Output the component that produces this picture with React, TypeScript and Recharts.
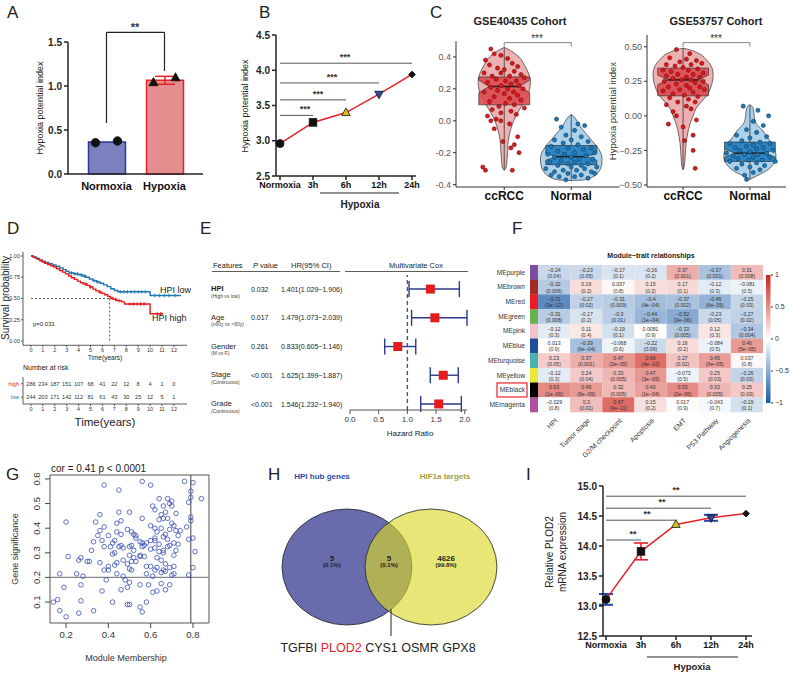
import React from 'react';
import {
  ComposedChart, BarChart, Bar, Line, Scatter, ScatterChart, AreaChart, Area,
  XAxis, YAxis, ErrorBar, ReferenceLine, ReferenceArea, Cell,
} from 'recharts';

const FONT = '"Liberation Sans", Arial, Helvetica, sans-serif';

/* ======================= DATA ======================= */
// Panel A
const aCategories = ['Normoxia', 'Hypoxia'];
const aMeans = [0.365, 1.065];
const aErrors = [0, 0.045];
const aRep1 = [0.355, 1.04];
const aRep2 = [0.375, 1.095];
const aBracket = [0.58, 1.61, 1.17];

// Panel B
const bCategories = ['Normoxia', '3h', '6h', '12h', '24h'];
const bValues = [2.96, 3.26, 3.4, 3.66, 3.94];
const bSigEnds = ['3h', '6h', '12h', '24h'];
const bSigLevels = [3.36, 3.58, 3.82, 4.1];

// Panel I
const iValues = [13.11, 13.91, 14.36, 14.47, 14.54];
const iErrors = [0.09, 0.14, 0.02, 0.05, 0.02];
const iSigLevels = [14.1, 14.43, 14.63, 14.83];
const iErrBlue = ['Normoxia', '12h'];
const iErrRed = ['3h'];

// Panel C – GSE40435
const c1CcDensity = [[-0.31, 0], [-0.29, 0.03], [-0.25, 0.04], [-0.2, 0.05], [-0.15, 0.055], [-0.1, 0.07], [-0.05, 0.1], [0, 0.14], [0.05, 0.2], [0.1, 0.27], [0.15, 0.34], [0.2, 0.38], [0.25, 0.39], [0.3, 0.36], [0.35, 0.3], [0.4, 0.22], [0.43, 0.13], [0.45, 0.05], [0.46, 0]];
const c1NDensity = [[-0.375, 0], [-0.37, 0.2], [-0.35, 0.33], [-0.32, 0.41], [-0.28, 0.45], [-0.24, 0.46], [-0.2, 0.44], [-0.16, 0.38], [-0.12, 0.3], [-0.08, 0.22], [-0.05, 0.16], [-0.02, 0.11], [0.01, 0.07], [0.03, 0.03], [0.04, 0]];
const c1CcBox = [-0.31, 0.1, 0.215, 0.275, 0.46];
const c1NBox = [-0.375, -0.275, -0.225, -0.155, 0.04];
const c1Notch = [0.04, 0.022];
const c1CcPoints = [[-0.2, 0.45], [-0.15, 0.42], [-0.05, 0.41], [-0.28, 0.38], [0.05, 0.39], [0.12, 0.36], [-0.22, 0.35], [0.2, 0.34], [-0.1, 0.33], [0, 0.32], [0.15, 0.31], [-0.3, 0.3], [-0.05, 0.3], [0.25, 0.29], [0.08, 0.28], [-0.18, 0.28], [0.3, 0.27], [-0.12, 0.26], [0.02, 0.25], [0.18, 0.25], [-0.25, 0.24], [0.1, 0.23], [-0.05, 0.22], [0.22, 0.22], [-0.2, 0.21], [0.05, 0.2], [0.28, 0.2], [-0.1, 0.19], [0.14, 0.18], [-0.3, 0.18], [0, 0.17], [0.2, 0.16], [-0.15, 0.15], [0.08, 0.14], [0.25, 0.13], [-0.22, 0.12], [0.02, 0.11], [0.15, 0.1], [-0.08, 0.09], [0.3, 0.08], [-0.18, 0.07], [0.1, 0.06], [-0.05, 0.05], [0.18, 0.04], [-0.25, 0.03], [-0.12, 0.01], [-0.05, 0], [-0.2, 0], [0.08, -0.02], [-0.15, -0.05], [0.2, -0.1], [-0.02, -0.13], [0.15, -0.15], [0.22, -0.2], [0.1, -0.17], [-0.32, -0.29], [-0.28, -0.31], [0.12, -0.31]];
const c1NPoints = [[-0.22, 0.01], [0.1, -0.02], [-0.15, -0.04], [0.2, -0.03], [0.05, -0.06], [-0.08, -0.09], [0.15, -0.1], [-0.25, -0.12], [0, -0.12], [0.25, -0.13], [-0.12, -0.14], [0.1, -0.15], [-0.3, -0.16], [0.3, -0.17], [-0.05, -0.17], [0.18, -0.18], [-0.2, -0.19], [0.05, -0.2], [0.35, -0.2], [-0.35, -0.21], [-0.1, -0.21], [0.22, -0.22], [0, -0.23], [-0.25, -0.23], [0.12, -0.24], [0.32, -0.24], [-0.15, -0.25], [0.05, -0.26], [-0.32, -0.26], [0.25, -0.27], [-0.05, -0.27], [0.15, -0.28], [-0.2, -0.28], [0.38, -0.29], [0, -0.29], [-0.38, -0.3], [0.2, -0.3], [-0.12, -0.31], [0.08, -0.31], [0.3, -0.32], [-0.25, -0.32], [-0.05, -0.33], [0.15, -0.34], [-0.18, -0.35], [0.05, -0.35], [0.25, -0.36], [-0.08, -0.37], [-0.3, -0.34], [0.35, -0.33]];

// Panel C – GSE53757
const c2CcDensity = [[-0.39, 0], [-0.36, 0.02], [-0.3, 0.03], [-0.2, 0.045], [-0.15, 0.06], [-0.1, 0.08], [-0.05, 0.11], [0, 0.15], [0.05, 0.19], [0.1, 0.27], [0.15, 0.36], [0.2, 0.41], [0.25, 0.44], [0.3, 0.45], [0.35, 0.43], [0.4, 0.36], [0.45, 0.24], [0.475, 0.12], [0.49, 0]];
const c2NDensity = [[-0.46, 0], [-0.44, 0.08], [-0.4, 0.24], [-0.35, 0.35], [-0.3, 0.39], [-0.25, 0.38], [-0.2, 0.33], [-0.15, 0.25], [-0.1, 0.18], [-0.06, 0.1], [-0.02, 0.07], [0.02, 0.06], [0.05, 0.05], [0.07, 0.03], [0.08, 0]];
const c2CcBox = [-0.39, 0.145, 0.26, 0.345, 0.49];
const c2NBox = [-0.46, -0.33, -0.27, -0.19, 0.08];
const c2Notch = [0.035, 0.03];
const c2CcPoints = [[-0.1, 0.48], [0.1, 0.45], [-0.2, 0.42], [0.05, 0.41], [0.2, 0.4], [-0.05, 0.39], [0.28, 0.38], [-0.25, 0.37], [0.12, 0.37], [-0.12, 0.36], [0, 0.35], [0.22, 0.34], [-0.3, 0.33], [0.08, 0.33], [-0.18, 0.32], [0.3, 0.31], [0.15, 0.3], [-0.08, 0.3], [-0.25, 0.29], [0.05, 0.28], [0.25, 0.28], [-0.15, 0.27], [0.12, 0.26], [-0.02, 0.26], [0.3, 0.25], [-0.28, 0.25], [0.18, 0.24], [-0.1, 0.23], [0.05, 0.22], [-0.22, 0.21], [0.25, 0.21], [0.1, 0.2], [-0.05, 0.19], [0.32, 0.19], [-0.3, 0.18], [0.15, 0.17], [-0.15, 0.16], [0.02, 0.15], [0.22, 0.14], [-0.2, 0.13], [0.08, 0.12], [-0.08, 0.1], [0.18, 0.1], [-0.25, 0.08], [0.05, 0.07], [0.12, 0.05], [-0.15, 0.03], [-0.1, 0], [0.2, -0.03], [-0.22, -0.06], [0, -0.08], [0.15, -0.14], [0.02, -0.18], [0.15, -0.25], [0.18, -0.38]];
const c2NPoints = [[-0.1, 0.07], [0.12, 0.04], [0.28, 0], [0.05, -0.04], [0.2, -0.07], [-0.05, -0.1], [0.1, -0.12], [-0.2, -0.14], [0.25, -0.15], [0, -0.16], [-0.12, -0.18], [0.15, -0.19], [-0.3, -0.2], [0.3, -0.2], [0.05, -0.21], [-0.05, -0.22], [0.2, -0.23], [-0.22, -0.23], [0.1, -0.24], [0.35, -0.25], [-0.15, -0.25], [0, -0.26], [-0.35, -0.27], [0.25, -0.27], [0.12, -0.28], [-0.08, -0.28], [-0.25, -0.29], [0.3, -0.3], [0.05, -0.3], [-0.18, -0.31], [0.18, -0.32], [-0.02, -0.32], [-0.3, -0.33], [0.38, -0.33], [0.1, -0.34], [-0.12, -0.35], [0.22, -0.36], [0, -0.37], [-0.2, -0.38], [0.15, -0.39], [0.05, -0.41], [-0.08, -0.43], [-0.05, -0.46]];

// Panel D – Kaplan-Meier
const kmHigh = [[0, 1], [0.15, 0.99], [0.35, 0.975], [0.55, 0.96], [0.75, 0.945], [0.95, 0.93], [1.15, 0.915], [1.4, 0.9], [1.65, 0.885], [1.9, 0.87], [2.15, 0.85], [2.4, 0.83], [2.65, 0.81], [2.9, 0.79], [3.15, 0.765], [3.4, 0.745], [3.65, 0.725], [3.9, 0.705], [4.15, 0.685], [4.4, 0.67], [4.7, 0.655], [4.95, 0.635], [5.2, 0.61], [5.45, 0.59], [5.7, 0.575], [5.95, 0.56], [6.2, 0.545], [6.45, 0.525], [6.65, 0.505], [6.9, 0.49], [7.2, 0.475], [7.6, 0.46], [7.85, 0.435], [9.95, 0.435], [10, 0.32], [11.1, 0.32]];
const kmLow = [[0, 1], [0.2, 0.985], [0.45, 0.97], [0.7, 0.955], [0.95, 0.94], [1.2, 0.925], [1.5, 0.91], [1.8, 0.895], [2.1, 0.88], [2.4, 0.86], [2.7, 0.84], [2.95, 0.82], [3.2, 0.8], [3.6, 0.79], [4, 0.78], [4.3, 0.765], [4.6, 0.75], [4.9, 0.73], [5.2, 0.71], [5.5, 0.695], [5.8, 0.68], [6.1, 0.66], [6.4, 0.64], [6.7, 0.615], [7, 0.595], [7.3, 0.58], [9.95, 0.58], [10, 0.535], [12.6, 0.535]];
const censorHigh = [4.6, 5.0, 5.8, 6.8, 7.1, 7.4, 8.3, 8.6, 8.9, 9.2, 9.5, 10.6, 10.9];
const censorLow = [3.4, 3.7, 3.9, 4.2, 4.5, 5.3, 5.6, 7.5, 7.8, 8.1, 8.4, 8.7, 9.0, 9.3, 9.6, 10.4, 10.8, 11.2, 11.6, 12.1];
const kmMedianHigh = 6.6;
const riskTimes = [0, 1, 2, 3, 4, 5, 6, 7, 8, 9, 10, 11, 12];
const riskHigh = [286, 234, 187, 151, 107, 68, 41, 22, 12, 8, 4, 1, 0];
const riskLow = [244, 203, 171, 142, 112, 81, 61, 43, 30, 25, 12, 5, 1];

// Panel E – forest plot
const eFeatures = ['HPI', 'Age', 'Gender', 'Stage', 'Grade'];
const eSubs = ['(High vs low)', '(\u226560y vs <60y)', '(M vs F)', '(Continuous)', '(Continuous)'];
const ePvals = ['0.032', '0.017', '0.261', '<0.001', '<0.001'];
const eHR = [1.401, 1.479, 0.833, 1.625, 1.546];
const eLow = [1.029, 1.073, 0.605, 1.399, 1.232];
const eHigh = [1.906, 2.039, 1.146, 1.887, 1.94];

// Panel F – module-trait heatmap
const fModules = ['MEpurple', 'MEbrown', 'MEred', 'MEgreen', 'MEpink', 'MEblue', 'MEturquoise', 'MEyellow', 'MEblack', 'MEmagenta'];
const fModuleColors = ['#7b4ea1', '#a52a2a', '#ee1c25', '#6ab04c', '#f4c2cc', '#1f4e9e', '#45b3ac', '#ece83a', '#000000', '#b0509e'];
const fTraits = ['HPI', 'Tumor stage', 'G2/M checkpoint', 'Apoptosis', 'EMT', 'P53 Pathway', 'Angiogenesis'];
const fCorr = [
  [-0.24, -0.23, -0.17, -0.16, 0.37, -0.37, 0.31],
  [-0.32, 0.16, 0.037, 0.15, 0.17, -0.12, -0.081],
  [-0.71, -0.27, -0.31, -0.4, -0.37, -0.46, -0.25],
  [-0.31, -0.17, -0.3, -0.44, -0.52, -0.23, -0.27],
  [-0.12, 0.11, -0.19, 0.0081, -0.33, 0.12, -0.34],
  [0.013, -0.39, -0.068, -0.22, 0.16, -0.084, 0.46],
  [0.23, 0.37, 0.47, 0.66, 0.27, 0.45, 0.037],
  [-0.12, 0.24, 0.33, 0.47, -0.073, 0.25, -0.26],
  [0.53, 0.46, 0.32, 0.43, 0.53, 0.33, 0.25],
  [-0.029, 0.3, 0.67, 0.15, 0.017, -0.043, -0.19],
];
const fP = [
  ['0.04', '0.05', '0.1', '0.2', '0.001', '0.001', '0.008'],
  ['0.006', '0.2', '0.8', '0.2', '0.1', '0.3', '0.5'],
  ['3e\u221212', '0.02', '0.009', '4e\u221204', '0.002', '6e\u221205', '0.03'],
  ['0.008', '0.2', '0.01', '1e\u221204', '3e\u221206', '0.05', '0.02'],
  ['0.3', '0.4', '0.1', '0.9', '0.005', '0.3', '0.004'],
  ['0.9', '6e\u221204', '0.6', '0.06', '0.2', '0.5', '5e\u221205'],
  ['0.05', '0.001', '3e\u221205', '4e\u221210', '0.02', '6e\u221205', '0.8'],
  ['0.3', '0.04', '0.005', '3e\u221205', '0.5', '0.03', '0.03'],
  ['1e\u221206', '6e\u221205', '0.005', '1e\u221204', '2e\u221206', '0.005', '0.03'],
  ['0.8', '0.01', '9e\u221211', '0.2', '0.9', '0.7', '0.1'],
];
const fHighlight = 'MEblack';
const fScaleTicks = [-1, -0.5, 0, 0.5, 1];

// Panel G – MM vs GS scatter
const gPoints = [[0.38, 0.575], [0.56, 0.59], [0.6, 0.575], [0.76, 0.59], [0.8, 0.585], [0.45, 0.555], [0.79, 0.55], [0.84, 0.52], [0.79, 0.525], [0.68, 0.52], [0.64, 0.52], [0.7, 0.51], [0.69, 0.5], [0.78, 0.505], [0.61, 0.49], [0.66, 0.49], [0.7, 0.49], [0.62, 0.475], [0.67, 0.465], [0.45, 0.465], [0.5, 0.465], [0.36, 0.455], [0.65, 0.455], [0.72, 0.46], [0.66, 0.44], [0.56, 0.44], [0.79, 0.445], [0.89, 0.44], [0.68, 0.44], [0.79, 0.43], [0.46, 0.43], [0.64, 0.435], [0.34, 0.425], [0.2, 0.425], [0.44, 0.42], [0.6, 0.41], [0.7, 0.42], [0.71, 0.41], [0.77, 0.405], [0.38, 0.405], [0.65, 0.4], [0.62, 0.4], [0.69, 0.395], [0.63, 0.385], [0.72, 0.39], [0.74, 0.39], [0.36, 0.39], [0.44, 0.385], [0.49, 0.395], [0.51, 0.385], [0.52, 0.375], [0.53, 0.37], [0.46, 0.375], [0.35, 0.37], [0.4, 0.37], [0.67, 0.375], [0.66, 0.365], [0.62, 0.36], [0.62, 0.35], [0.68, 0.355], [0.78, 0.355], [0.8, 0.36], [0.73, 0.37], [0.6, 0.35], [0.55, 0.345], [0.56, 0.34], [0.58, 0.34], [0.42, 0.34], [0.33, 0.345], [0.37, 0.35], [0.43, 0.35], [0.71, 0.34], [0.73, 0.335], [0.64, 0.335], [0.69, 0.33], [0.68, 0.325], [0.46, 0.33], [0.47, 0.32], [0.45, 0.325], [0.5, 0.325], [0.38, 0.325], [0.41, 0.325], [0.56, 0.325], [0.62, 0.32], [0.6, 0.315], [0.66, 0.31], [0.64, 0.305], [0.66, 0.3], [0.43, 0.3], [0.32, 0.31], [0.42, 0.295], [0.5, 0.29], [0.52, 0.28], [0.55, 0.285], [0.57, 0.285], [0.71, 0.29], [0.63, 0.28], [0.27, 0.28], [0.21, 0.285], [0.26, 0.27], [0.3, 0.265], [0.31, 0.265], [0.36, 0.26], [0.44, 0.26], [0.47, 0.27], [0.51, 0.265], [0.53, 0.265], [0.65, 0.27], [0.67, 0.255], [0.43, 0.25], [0.4, 0.245], [0.69, 0.24], [0.63, 0.24], [0.6, 0.245], [0.58, 0.245], [0.71, 0.245], [0.66, 0.23], [0.5, 0.235], [0.4, 0.23], [0.38, 0.23], [0.62, 0.23], [0.67, 0.225], [0.65, 0.22], [0.71, 0.215], [0.58, 0.215], [0.44, 0.215], [0.25, 0.215], [0.17, 0.215], [0.28, 0.205], [0.47, 0.205], [0.61, 0.205], [0.7, 0.21], [0.78, 0.21], [0.8, 0.24], [0.39, 0.19], [0.48, 0.19], [0.5, 0.18], [0.55, 0.17], [0.59, 0.17], [0.65, 0.175], [0.69, 0.17], [0.19, 0.16], [0.27, 0.17], [0.37, 0.145], [0.46, 0.15], [0.61, 0.14], [0.63, 0.145], [0.67, 0.15], [0.49, 0.16], [0.16, 0.11], [0.27, 0.105], [0.14, 0.1], [0.42, 0.1], [0.49, 0.09], [0.5, 0.09], [0.55, 0.08], [0.58, 0.1], [0.17, 0.065], [0.33, 0.065], [0.56, 0.06], [0.26, 0.055], [0.2, 0.04], [0.81, 0.305], [0.72, 0.31], [0.55, 0.29], [0.49, 0.255], [0.51, 0.23], [0.53, 0.36], [0.51, 0.33], [0.52, 0.31], [0.57, 0.33]];
const gCor = 'cor = 0.41 p < 0.0001';
const gThresholdGS = 0.2;
const gThresholdMM = 0.79;

// Panel H – Venn
const hSets = ['HPI hub genes', 'HIF1a targets'];
const hCounts = ['5', '5', '4626'];
const hPercents = ['(0.1%)', '(0.1%)', '(99.8%)'];
const hGenes = ['TGFBI', 'PLOD2', 'CYS1', 'OSMR', 'GPX8'];
const hHighlight = 'PLOD2';

/* ======================= HELPERS ======================= */
const Abs = ({ x, y, children }: any) => (
  <div style={{ position: 'absolute', left: x, top: y }}>{children}</div>
);

function Mk({ cx, cy, kind, fill = '#111', stroke = '#111', s = 4 }: any) {
  if (cx == null || cy == null || isNaN(cx) || isNaN(cy)) return <g />;
  const sw = 0.8;
  if (kind === 'circle') return <circle cx={cx} cy={cy} r={s} fill={fill} stroke={stroke} strokeWidth={sw} />;
  if (kind === 'square') return <rect x={cx - s} y={cy - s} width={2 * s} height={2 * s} fill={fill} stroke={stroke} strokeWidth={sw} />;
  if (kind === 'tri') return <polygon points={`${cx},${cy - s * 1.15} ${cx - s * 1.05},${cy + s * 0.75} ${cx + s * 1.05},${cy + s * 0.75}`} fill={fill} stroke={stroke} strokeWidth={sw} />;
  if (kind === 'itri') return <polygon points={`${cx},${cy + s * 1.15} ${cx - s * 1.05},${cy - s * 0.75} ${cx + s * 1.05},${cy - s * 0.75}`} fill={fill} stroke={stroke} strokeWidth={sw} />;
  return <polygon points={`${cx},${cy - s} ${cx + s},${cy} ${cx},${cy + s} ${cx - s},${cy}`} fill={fill} stroke={stroke} strokeWidth={sw} />;
}

const T = ({ x, y, children, size = 8, anchor = 'start', weight = 'normal', fill = '#222', rotate = 0, italic = false }: any) => (
  <text x={x} y={y} fontSize={size} textAnchor={anchor} fontWeight={weight} fill={fill}
    fontStyle={italic ? 'italic' : 'normal'} fontFamily={FONT}
    transform={rotate ? `rotate(${rotate} ${x} ${y})` : undefined}>{children}</text>
);

const minus = (s: string) => s.replace('-', '\u2212');

function corrColor(c: number) {
  const t = Math.max(-1, Math.min(1, c));
  const end = t >= 0 ? [205, 35, 25] : [25, 90, 168];
  const a = Math.abs(t);
  const m = (k: number) => Math.round(255 + (end[k] - 255) * a);
  return `rgb(${m(0)},${m(1)},${m(2)})`;
}

const AXIS = { stroke: '#222', strokeWidth: 1.5 };

/* ======================= PANEL A ======================= */
const aData = aCategories.map((name, i) => ({ name, mean: aMeans[i], err: aErrors[i], r1: aRep1[i], r2: aRep2[i] }));
const aFill: any = { Normoxia: '#7b80bf', Hypoxia: '#e48e8f' };
const aStroke: any = { Normoxia: '#2b3a98', Hypoxia: '#e8202a' };
const aMarker: any = { Normoxia: 'circle', Hypoxia: 'tri' };

function PanelA() {
  const shape = (off: number) => (p: any) => (
    <Mk cx={p.cx + off} cy={p.cy} kind={aMarker[p.payload.name]} s={4.3} />
  );
  return (
    <Abs x={0} y={0}>
      <ComposedChart width={215} height={200} data={aData} margin={{ top: 42, right: 12, bottom: 6, left: 38 }}>
        <XAxis dataKey="name" type="category" allowDuplicatedCategory={false} padding={{ left: 9.5, right: 9.5 }}
          tickLine={false} axisLine={AXIS} tick={{ fontSize: 11, fontWeight: 'bold', fill: '#111' }} height={20} interval={0} />
        <YAxis type="number" domain={[0, 1.5]} ticks={[0, 0.5, 1, 1.5]} tickFormatter={(v: number) => v.toFixed(1)}
          width={30} axisLine={AXIS} tickLine={AXIS} tickSize={4} tick={{ fontSize: 10, fontWeight: 'bold', fill: '#222' }} />
        <Bar dataKey="mean" barSize={37} isAnimationActive={false} strokeWidth={1.5}>
          {aData.map((d) => <Cell key={d.name} fill={aFill[d.name]} stroke={aStroke[d.name]} />)}
          <ErrorBar dataKey="err" width={10} stroke="#e8202a" strokeWidth={1.5} />
        </Bar>
        <Scatter dataKey="r1" isAnimationActive={false} shape={shape(-11)} />
        <Scatter dataKey="r2" isAnimationActive={false} shape={shape(11)} />
        <ReferenceLine ifOverflow="visible" segment={[{ x: 'Normoxia', y: aBracket[0] }, { x: 'Normoxia', y: aBracket[1] }]} stroke="#222" strokeWidth={1.2} />
        <ReferenceLine ifOverflow="visible" segment={[{ x: 'Normoxia', y: aBracket[1] }, { x: 'Hypoxia', y: aBracket[1] }]} stroke="#222" strokeWidth={1.2} />
        <ReferenceLine ifOverflow="visible" segment={[{ x: 'Hypoxia', y: aBracket[1] }, { x: 'Hypoxia', y: aBracket[2] }]} stroke="#222" strokeWidth={1.2} />
      </ComposedChart>
    </Abs>
  );
}

/* ======================= TIME-LINE PANELS (B, I) ======================= */
const tlMarkers = ['circle', 'square', 'tri', 'itri', 'diamond'];
const tlFills = ['#111', '#111', '#d4c21a', '#2a4aa0', '#111'];
const tlSizes = [4, 3.8, 4, 4, 3.4];

function PanelB() {
  const data = bCategories.map((name, i) => ({ name, v: bValues[i] }));
  return (
    <Abs x={230} y={0}>
      <ComposedChart width={200} height={215} data={data} margin={{ top: 35, right: 14, bottom: 25, left: 16 }}>
        <XAxis dataKey="name" type="category" allowDuplicatedCategory={false} padding={{ left: 4, right: 4 }} interval={0}
          axisLine={AXIS} tickLine={AXIS} tickSize={4} height={14} tick={{ fontSize: 9, fontWeight: 'bold', fill: '#111' }} />
        <YAxis type="number" domain={[2.5, 4.5]} ticks={[2.5, 3, 3.5, 4, 4.5]} tickFormatter={(v: number) => v.toFixed(1)}
          width={30} axisLine={AXIS} tickLine={AXIS} tickSize={4} tick={{ fontSize: 10, fontWeight: 'bold', fill: '#222' }} />
        {bSigEnds.map((end, i) => (
          <ReferenceLine key={end} ifOverflow="visible" segment={[{ x: 'Normoxia', y: bSigLevels[i] }, { x: end, y: bSigLevels[i] }]} stroke="#555" strokeWidth={1} />
        ))}
        <Line dataKey="v" stroke="#e8202a" strokeWidth={1.5} isAnimationActive={false}
          dot={(p: any) => <Mk key={p.index} cx={p.cx} cy={p.cy} kind={tlMarkers[p.index]} fill={tlFills[p.index]} s={tlSizes[p.index]} />} />
      </ComposedChart>
    </Abs>
  );
}

function PanelI() {
  const data = bCategories.map((name, i) => ({ name, v: iValues[i], e: iErrors[i] }));
  const blue = data.filter((d) => iErrBlue.includes(d.name));
  const red = data.filter((d) => iErrRed.includes(d.name));
  return (
    <Abs x={555} y={455}>
      <ComposedChart width={215} height={219} data={data} margin={{ top: 31, right: 18, bottom: 22, left: 14 }}>
        <XAxis dataKey="name" type="category" allowDuplicatedCategory={false} padding={{ left: 3, right: 6 }} interval={0}
          axisLine={AXIS} tickLine={AXIS} tickSize={4} height={16} tick={{ fontSize: 9, fontWeight: 'bold', fill: '#111' }} />
        <YAxis type="number" domain={[12.5, 15]} ticks={[12.5, 13, 13.5, 14, 14.5, 15]} tickFormatter={(v: number) => v.toFixed(1)}
          width={34} axisLine={AXIS} tickLine={AXIS} tickSize={4} tick={{ fontSize: 10, fontWeight: 'bold', fill: '#222' }} />
        {bSigEnds.map((end, i) => (
          <ReferenceLine key={end} ifOverflow="visible" segment={[{ x: 'Normoxia', y: iSigLevels[i] }, { x: end, y: iSigLevels[i] }]} stroke="#555" strokeWidth={1} />
        ))}
        <Line data={blue} dataKey="v" stroke="none" dot={false} activeDot={false} isAnimationActive={false}>
          <ErrorBar dataKey="e" width={7} stroke="#2447a8" strokeWidth={2} />
        </Line>
        <Line data={red} dataKey="v" stroke="none" dot={false} activeDot={false} isAnimationActive={false}>
          <ErrorBar dataKey="e" width={7} stroke="#e8202a" strokeWidth={1.6} />
        </Line>
        <Line dataKey="v" stroke="#e8202a" strokeWidth={1.5} isAnimationActive={false}
          dot={(p: any) => <Mk key={p.index} cx={p.cx} cy={p.cy} kind={tlMarkers[p.index]} fill={tlFills[p.index]} s={tlSizes[p.index]} />} />
      </ComposedChart>
    </Abs>
  );
}

/* ======================= PANEL C ======================= */
const BOX_HW = 0.38;
const NOTCH_IN = 0.6;
const violinRows = (center: number, dens: number[][]) => dens.map(([v, hw]) => ({ v, r: [center - hw, center + hw] }));
function boxRows(center: number, box: number[], notch: number) {
  const [, q1, md, q3] = box;
  const full = [center - BOX_HW, center + BOX_HW];
  return [
    { v: q1, r: [center, center] },
    { v: q1, r: full },
    { v: md - notch, r: full },
    { v: md, r: [center - BOX_HW * NOTCH_IN, center + BOX_HW * NOTCH_IN] },
    { v: md + notch, r: full },
    { v: q3, r: full },
    { v: q3, r: [center, center] },
  ];
}

function AreaLayer({ w, h, margin, rows, xDomain, yDomain, fill, type, opacity = 1 }: any) {
  return (
    <div style={{ position: 'absolute', left: 0, top: 0 }}>
      <AreaChart width={w} height={h} data={rows} layout="vertical" margin={margin}>
        <XAxis type="number" domain={xDomain} allowDataOverflow hide />
        <YAxis type="number" dataKey="v" domain={yDomain} allowDataOverflow hide reversed />
        <Area dataKey="r" type={type} fill={fill} fillOpacity={opacity} stroke="#333" strokeWidth={0.7}
          dot={false} activeDot={false} isAnimationActive={false} />
      </AreaChart>
    </div>
  );
}

const cColors = {
  violin: ['#eba3a5', '#9dc9e7'],
  box: ['#dc4a50', '#1f7cbf'],
  pt: ['#d7191c', '#1f78b4'],
  ptStroke: ['#6a0a0a', '#0c3456'],
};

function Cohort({ x, y, w, h, plot, xDomain, yDomain, yTicks, yFmt, dens, boxes, notches, pts, sig }: any) {
  const mh = { left: plot.left, top: plot.top, right: w - plot.right, bottom: h - plot.bottom };
  const mv = { left: plot.left - 40, top: plot.top, right: w - plot.right, bottom: h - plot.bottom - 16 };
  const layers: any[] = [];
  [0, 1].forEach((k) => {
    layers.push({ rows: violinRows(k + 1, dens[k]), fill: cColors.violin[k], type: 'monotone', opacity: 0.85 });
  });
  [0, 1].forEach((k) => {
    layers.push({ rows: boxRows(k + 1, boxes[k], notches[k]), fill: cColors.box[k], type: 'linear', opacity: 0.9 });
  });
  return (
    <Abs x={x} y={y}>
      <div style={{ position: 'relative', width: w, height: h }}>
        {layers.map((l, i) => (
          <AreaLayer key={i} w={w} h={h} margin={mh} rows={l.rows} xDomain={xDomain} yDomain={yDomain} fill={l.fill} type={l.type} opacity={l.opacity} />
        ))}
        <div style={{ position: 'absolute', left: 0, top: 0 }}>
          <ScatterChart width={w} height={h} margin={mv}>
            <XAxis type="number" dataKey="x" domain={xDomain} ticks={[1, 2]} allowDataOverflow height={16}
              tickFormatter={(v: number) => (v === 1 ? 'ccRCC' : 'Normal')} tickSize={3} tickMargin={1}
              axisLine={{ stroke: '#333' }} tickLine={{ stroke: '#333' }} tick={{ fontSize: 12, fontWeight: 'bold', fill: '#111' }} />
            <YAxis type="number" dataKey="y" domain={yDomain} ticks={yTicks} tickFormatter={yFmt} allowDataOverflow width={40}
              tickSize={3} axisLine={{ stroke: '#333' }} tickLine={{ stroke: '#333' }} tick={{ fontSize: 9, fill: '#555' }} />
            {[0, 1].map((k) => {
              const c = k + 1;
              const [mn, q1, md, q3, mx] = boxes[k];
              return [
                <ReferenceLine key={`wu${k}`} segment={[{ x: c, y: q3 }, { x: c, y: mx }]} stroke="#333" strokeWidth={0.8} ifOverflow="visible" />,
                <ReferenceLine key={`wl${k}`} segment={[{ x: c, y: mn }, { x: c, y: q1 }]} stroke="#333" strokeWidth={0.8} ifOverflow="visible" />,
                <ReferenceLine key={`md${k}`} segment={[{ x: c - BOX_HW * NOTCH_IN, y: md }, { x: c + BOX_HW * NOTCH_IN, y: md }]} stroke="#222" strokeWidth={1.6} ifOverflow="visible" />,
              ];
            })}
            {[0, 1].map((k) => (
              <Scatter key={`p${k}`} data={pts[k].map(([dx, v]: number[]) => ({ x: k + 1 + dx, y: v }))} isAnimationActive={false}
                shape={(p: any) => <circle cx={p.cx} cy={p.cy} r={2.1} fill={cColors.pt[k]} stroke={cColors.ptStroke[k]} strokeWidth={0.5} />} />
            ))}
            <ReferenceLine ifOverflow="visible" segment={[{ x: 1, y: sig[0] }, { x: 1, y: sig[1] }]} stroke="#777" strokeWidth={0.9} />
            <ReferenceLine ifOverflow="visible" segment={[{ x: 1, y: sig[1] }, { x: 2, y: sig[1] }]} stroke="#777" strokeWidth={0.9} />
            <ReferenceLine ifOverflow="visible" segment={[{ x: 2, y: sig[1] }, { x: 2, y: sig[0] }]} stroke="#777" strokeWidth={0.9} />
          </ScatterChart>
        </div>
      </div>
    </Abs>
  );
}

function PanelC() {
  return (
    <>
      <Cohort x={400} y={25} w={225} h={180} plot={{ left: 56, top: 16, right: 219.5, bottom: 162 }}
        xDomain={[0.28, 2.72]} yDomain={[-0.415, 0.5]} yTicks={[-0.4, -0.2, 0, 0.2, 0.4]} yFmt={(v: number) => v.toFixed(1)}
        dens={[c1CcDensity, c1NDensity]} boxes={[c1CcBox, c1NBox]} notches={c1Notch} pts={[c1CcPoints, c1NPoints]} sig={[0.465, 0.49]} />
      <Cohort x={585} y={25} w={205} h={180} plot={{ left: 62, top: 10, right: 201, bottom: 162 }}
        xDomain={[0.46, 2.54]} yDomain={[-0.515, 0.585]} yTicks={[-0.5, -0.25, 0, 0.25, 0.5]} yFmt={(v: number) => minus(v.toFixed(2))}
        dens={[c2CcDensity, c2NDensity]} boxes={[c2CcBox, c2NBox]} notches={c2Notch} pts={[c2CcPoints, c2NPoints]} sig={[0.5, 0.53]} />
    </>
  );
}

/* ======================= PANEL D ======================= */
const KM_RED = '#e41a1c';
const KM_BLUE = '#1f78b4';
const stepAt = (curve: number[][], t: number) => {
  let s = curve[0][1];
  for (const [tt, ss] of curve) if (tt <= t) s = ss;
  return s;
};
const kmXDomain = [-0.67, 13.1];
const kmTicks = riskTimes;

function PanelD() {
  const hi = kmHigh.map(([x, y]) => ({ x, y }));
  const lo = kmLow.map(([x, y]) => ({ x, y }));
  const cHi = censorHigh.map((t) => ({ x: t, y: stepAt(kmHigh, t) }));
  const cLo = censorLow.map((t) => ({ x: t, y: stepAt(kmLow, t) }));
  const plus = (color: string) => (p: any) => (
    <path d={`M${p.cx - 1.6},${p.cy}H${p.cx + 1.6}M${p.cx},${p.cy - 1.8}V${p.cy + 1.8}`} stroke={color} strokeWidth={0.9} />
  );
  const risk = [
    ...riskTimes.map((t, i) => ({ x: t, y: 0, n: riskHigh[i] })),
    ...riskTimes.map((t, i) => ({ x: t, y: 1, n: riskLow[i] })),
  ];
  const ax = { stroke: '#333', strokeWidth: 0.8 };
  return (
    <>
      <Abs x={0} y={240}>
        <ComposedChart width={200} height={125} margin={{ top: 11.75, right: 13, bottom: 9.75, left: 5 }}>
          <XAxis type="number" dataKey="x" domain={kmXDomain} ticks={kmTicks} allowDataOverflow height={10} interval={0}
            tickSize={2} tickMargin={1} axisLine={ax} tickLine={ax} tick={{ fontSize: 5.5, fill: '#333' }} />
          <YAxis type="number" dataKey="y" domain={[-0.05, 1.05]} ticks={[0, 0.25, 0.5, 0.75, 1]} tickFormatter={(v: number) => v.toFixed(2)} interval={0}
            width={18} tickSize={2} tickMargin={1} axisLine={ax} tickLine={ax} tick={{ fontSize: 5.5, fill: '#333' }} />
          <ReferenceLine segment={[{ x: 0, y: 0.5 }, { x: kmMedianHigh, y: 0.5 }]} stroke="#333" strokeDasharray="2 2" strokeWidth={0.8} />
          <ReferenceLine segment={[{ x: kmMedianHigh, y: 0.5 }, { x: kmMedianHigh, y: 0 }]} stroke="#333" strokeDasharray="2 2" strokeWidth={0.8} />
          <Line data={lo} dataKey="y" type="stepAfter" stroke={KM_BLUE} strokeWidth={1.4} dot={false} activeDot={false} isAnimationActive={false} />
          <Line data={hi} dataKey="y" type="stepAfter" stroke={KM_RED} strokeWidth={1.4} dot={false} activeDot={false} isAnimationActive={false} />
          <Scatter data={cLo} dataKey="y" shape={plus(KM_BLUE)} isAnimationActive={false} />
          <Scatter data={cHi} dataKey="y" shape={plus(KM_RED)} isAnimationActive={false} />
        </ComposedChart>
      </Abs>
      <Abs x={0} y={368}>
        <ScatterChart width={200} height={60} margin={{ top: 9, right: 13, bottom: 12, left: 3 }}>
          <XAxis type="number" dataKey="x" domain={kmXDomain} ticks={kmTicks} allowDataOverflow height={12} interval={0}
            tickSize={2} tickMargin={1} axisLine={ax} tickLine={ax} tick={{ fontSize: 5.5, fill: '#333' }} />
          <YAxis type="number" dataKey="y" domain={[-0.5, 1.5]} reversed ticks={[0, 1]} width={20} tickSize={2} axisLine={ax} tickLine={ax} interval={0}
            tick={(p: any) => (
              <text x={p.x} y={p.y} dy="0.35em" textAnchor="end" fontSize={5.5} fill={p.payload.value === 0 ? KM_RED : KM_BLUE}>
                {p.payload.value === 0 ? 'high' : 'low'}
              </text>
            )} />
          <Scatter data={risk} isAnimationActive={false}
            shape={(p: any) => <text x={p.cx} y={p.cy} dy="0.35em" textAnchor="middle" fontSize={5.6} fill="#333">{p.payload.n}</text>} />
        </ScatterChart>
      </Abs>
    </>
  );
}

/* ======================= PANEL E ======================= */
function PanelE() {
  const data = eFeatures.map((f, i) => ({ row: i, hr: eHR[i], ci: [eHR[i] - eLow[i], eHigh[i] - eHR[i]] }));
  const tick = (p: any) => {
    const i = p.payload.value;
    const bx = p.x - 137;
    return (
      <g fontFamily={FONT}>
        <text x={bx} y={p.y + 2.2} fontSize={7.5} fontWeight={i === 0 ? 'bold' : 'normal'} fill="#222">{eFeatures[i]}</text>
        <text x={bx} y={p.y + 8.6} fontSize={5} fill="#444">{eSubs[i]}</text>
        <text x={bx + 40} y={p.y + 2.6} fontSize={7} fill="#222">{ePvals[i]}</text>
        <text x={bx + 70} y={p.y + 2.6} fontSize={7} fill="#222">{`${eHR[i].toFixed(3)}(${eLow[i].toFixed(3)}\u2212${eHigh[i].toFixed(3)})`}</text>
      </g>
    );
  };
  return (
    <Abs x={205} y={260}>
      <ScatterChart width={275} height={180} margin={{ top: 15, right: 13, bottom: 14, left: 8 }}>
        <XAxis type="number" dataKey="hr" domain={[0, 2]} ticks={[0, 0.5, 1, 1.5, 2]} tickFormatter={(v: number) => v.toFixed(1)}
          height={16} tickSize={4} tickMargin={2} axisLine={{ stroke: '#555' }} tickLine={{ stroke: '#555' }} tick={{ fontSize: 8, fill: '#333' }} />
        <YAxis type="number" dataKey="row" domain={[-0.49, 4.21]} reversed ticks={[0, 1, 2, 3, 4]} width={137} interval={0}
          axisLine={false} tickLine={false} tickSize={0} tick={tick} />
        <ReferenceLine x={1} stroke="#555" strokeDasharray="4 3" strokeWidth={1.4} />
        <Scatter data={data} isAnimationActive={false}
          shape={(p: any) => <rect x={p.cx - 4.5} y={p.cy - 4.5} width={9} height={9} fill="#e41a1c" />}>
          <ErrorBar dataKey="ci" direction="x" width={8} stroke="#2b3a8c" strokeWidth={1.4} />
        </Scatter>
      </ScatterChart>
    </Abs>
  );
}

/* ======================= PANEL F ======================= */
function PanelF() {
  const data = fModules.map((m) => {
    const row: any = { module: m, cb: 0.25 };
    fTraits.forEach((_, j) => { row[`c${j}`] = 1; });
    return row;
  });
  const cellShape = (j: number) => (p: any) => {
    const r = fModules.indexOf(p.payload.module);
    const c = fCorr[r][j];
    const cx = p.x + p.width / 2;
    const cy = p.y + p.height / 2;
    return (
      <g>
        <rect x={p.x} y={p.y} width={p.width} height={p.height} fill={corrColor(c)} />
        <text x={cx} y={cy - 0.8} textAnchor="middle" fontSize={5.2} fill="#333">{minus(String(c))}</text>
        <text x={cx} y={cy + 5.4} textAnchor="middle" fontSize={5.2} fill="#333">{`(${fP[r][j]})`}</text>
      </g>
    );
  };
  const sideShape = (p: any) => {
    const r = fModules.indexOf(p.payload.module);
    return <rect x={p.x} y={p.y} width={p.width} height={p.height} fill={fModuleColors[r]} />;
  };
  const yTick = (p: any) => (
    <g>
      <text x={p.x - 3} y={p.y} dy="0.35em" textAnchor="end" fontSize={6.6} fill="#333">{p.payload.value}</text>
      {p.payload.value === fHighlight && <rect x={p.x - 31} y={p.y - 7} width={30} height={14} fill="none" stroke="#e8202a" strokeWidth={1.2} />}
    </g>
  );
  const xTick = (p: any) => {
    const j = Math.round(p.payload.value - 0.75);
    const tx = p.x + 4;
    const ty = p.y + 5;
    return <text x={tx} y={ty} transform={`rotate(-45 ${tx} ${ty})`} textAnchor="end" fontSize={7} fill="#333">{fTraits[j]}</text>;
  };
  return (
    <>
      <Abs x={470} y={260}>
        <BarChart width={300} height={200} data={data} layout="vertical" barCategoryGap={0} margin={{ top: 5, right: 7, bottom: 8, left: 2 }}>
          <XAxis type="number" domain={[0, 7.25]} ticks={fTraits.map((_, j) => 0.75 + j)} allowDataOverflow height={40}
            axisLine={false} tickLine={false} tickSize={2} tick={xTick} interval={0} />
          <YAxis type="category" dataKey="module" width={58} axisLine={false} tickLine={false} tickSize={0} tick={yTick} interval={0} />
          <Bar dataKey="cb" stackId="s" isAnimationActive={false} shape={sideShape} />
          {fTraits.map((_, j) => (
            <Bar key={j} dataKey={`c${j}`} stackId="s" isAnimationActive={false} shape={cellShape(j)} />
          ))}
        </BarChart>
      </Abs>
      <Abs x={755} y={268}>
        <BarChart width={35} height={145} data={[{ k: 'scale', r: [-1, 1] }]} margin={{ top: 7, right: 3, bottom: 10, left: 11 }}>
          <defs>
            <linearGradient id="hmgrad" x1="0" y1="0" x2="0" y2="1">
              <stop offset="0%" stopColor={corrColor(1)} />
              <stop offset="50%" stopColor="#ffffff" />
              <stop offset="100%" stopColor={corrColor(-1)} />
            </linearGradient>
          </defs>
          <XAxis dataKey="k" hide />
          <YAxis orientation="right" type="number" domain={[-1, 1]} ticks={fScaleTicks} width={16} allowDataOverflow interval={0}
            tickFormatter={(v: number) => minus(String(v))} axisLine={false} tickSize={2} tickLine={{ stroke: '#333' }} tick={{ fontSize: 7, fill: '#333' }} />
          <Bar dataKey="r" barSize={5} fill="url(#hmgrad)" isAnimationActive={false} />
        </BarChart>
      </Abs>
    </>
  );
}

/* ======================= PANEL G ======================= */
function PanelG() {
  const data = gPoints.map(([x, y]) => ({ x, y }));
  const dom = { x: [0.124, 0.876], y: [0.015, 0.616] };
  const yTick = (p: any) => {
    const tx = p.x - 3;
    return <text x={tx} y={p.y} transform={`rotate(-90 ${tx} ${p.y})`} textAnchor="middle" fontSize={9.5} fill="#333">{p.payload.value.toFixed(1)}</text>;
  };
  return (
    <Abs x={0} y={460}>
      <ScatterChart width={225} height={200} margin={{ top: 15, right: 16, bottom: 17, left: 28 }}>
        <XAxis type="number" dataKey="x" domain={dom.x} ticks={[0.2, 0.4, 0.6, 0.8]} allowDataOverflow height={20} interval={0}
          tickFormatter={(v: number) => v.toFixed(1)} axisLine={false} tickSize={5} tickMargin={3} tickLine={{ stroke: '#444' }} tick={{ fontSize: 9.5, fill: '#333' }} />
        <YAxis type="number" dataKey="y" domain={dom.y} ticks={[0.1, 0.2, 0.3, 0.4, 0.5, 0.6]} allowDataOverflow width={22} interval={0}
          axisLine={false} tickSize={5} tickMargin={2} tickLine={{ stroke: '#444' }} tick={yTick} />
        <ReferenceArea x1={dom.x[0]} x2={dom.x[1]} y1={dom.y[0]} y2={dom.y[1]} fill="none" stroke="#555" strokeWidth={1} ifOverflow="visible" />
        <ReferenceLine y={gThresholdGS} stroke="#888" strokeWidth={1.3} />
        <ReferenceLine x={gThresholdMM} stroke="#444" strokeWidth={1} />
        <Scatter data={data} isAnimationActive={false}
          shape={(p: any) => <circle cx={p.cx} cy={p.cy} r={2.3} fill="none" stroke="#3a4fb5" strokeWidth={0.8} />} />
      </ScatterChart>
    </Abs>
  );
}

/* ======================= PANEL H ======================= */
function PanelH() {
  const sets = [{ x: -0.5, y: 0 }, { x: 0.5, y: 0 }];
  const regions = hCounts.map((n, i) => ({ x: [-0.68, 0, 0.68][i], y: 0, n, pct: hPercents[i] }));
  return (
    <Abs x={230} y={480}>
      <ScatterChart width={320} height={180} margin={{ top: 0, right: 0, bottom: 6, left: 0 }}>
        <XAxis type="number" dataKey="x" domain={[-1.893, 1.917]} hide />
        <YAxis type="number" dataKey="y" domain={[-1, 1]} hide />
        <Scatter data={[sets[0]]} isAnimationActive={false}
          shape={(p: any) => <ellipse cx={p.cx} cy={p.cy} rx={65} ry={58} fill="rgb(104,108,172)" stroke="#222" strokeWidth={0.8} />} />
        <Scatter data={[sets[1]]} isAnimationActive={false}
          shape={(p: any) => <ellipse cx={p.cx} cy={p.cy} rx={66} ry={58} fill="rgb(218,215,38)" fillOpacity={0.63} stroke="#222" strokeWidth={0.8} />} />
        <Scatter data={regions} isAnimationActive={false}
          shape={(p: any) => (
            <g>
              <text x={p.cx} y={p.cy - 6.5} textAnchor="middle" fontSize={8} fontWeight="bold" fill="#222">{p.payload.n}</text>
              <text x={p.cx} y={p.cy - 0.5} textAnchor="middle" fontSize={6} fontWeight="bold" fill="#222">{p.payload.pct}</text>
            </g>
          )} />
      </ScatterChart>
    </Abs>
  );
}

/* ======================= OVERLAY (labels, letters) ======================= */
function Overlay() {
  return (
    <svg width={790} height={674} style={{ position: 'absolute', left: 0, top: 0, pointerEvents: 'none' }} fontFamily={FONT}>
      {/* panel letters */}
      <T x={7} y={18} size={17}>A</T>
      <T x={259} y={18} size={17}>B</T>
      <T x={430} y={18} size={17}>C</T>
      <T x={7} y={234} size={17}>D</T>
      <T x={200} y={234} size={17}>E</T>
      <T x={512} y={234} size={17}>F</T>
      <T x={6} y={480} size={17}>G</T>
      <T x={268} y={480} size={17}>H</T>
      <T x={526} y={480} size={17}>I</T>

      {/* A */}
      <T x={43} y={108} size={9} anchor="middle" rotate={-90}>Hypoxia potential index</T>
      <T x={135} y={31} size={11} anchor="middle" weight="bold" fill="#333">**</T>

      {/* B */}
      <T x={248} y={106} size={9} anchor="middle" rotate={-90}>Hypoxia potential index</T>
      <T x={305} y={112} size={9} anchor="middle" weight="bold" fill="#333">***</T>
      <T x={318} y={97} size={9} anchor="middle" weight="bold" fill="#333">***</T>
      <T x={332} y={80} size={9} anchor="middle" weight="bold" fill="#333">***</T>
      <T x={345} y={60} size={9} anchor="middle" weight="bold" fill="#333">***</T>
      <line x1={320} y1={193} x2={399} y2={193} stroke="#222" strokeWidth={1} />
      <T x={360} y={208} size={10} anchor="middle" weight="bold" fill="#222">Hypoxia</T>

      {/* C */}
      <T x={520} y={25} size={11} anchor="middle" weight="bold" fill="#222">GSE40435 Cohort</T>
      <T x={716} y={25} size={11} anchor="middle" weight="bold" fill="#222">GSE53757 Cohort</T>
      <T x={537} y={42} size={10} anchor="middle" fill="#333">***</T>
      <T x={716} y={42} size={10} anchor="middle" fill="#333">***</T>
      <T x={616} y={111} size={9.5} anchor="middle" rotate={-90} fill="#333">Hypoxia potential index</T>

      {/* D */}
      <T x={8.5} y={298} size={10} anchor="middle" rotate={-90}>Survival probability</T>
      <T x={160} y={293} size={9}>HPI low</T>
      <T x={152} y={321} size={9}>HPI high</T>
      <T x={33} y={326} size={6}>p=0.031</T>
      <T x={105} y={359.5} size={6.5} anchor="middle">Time(years)</T>
      <T x={23} y={370} size={7}>Number at risk</T>
      <T x={105} y={426} size={11.5} anchor="middle">Time(years)</T>

      {/* E headers */}
      <T x={213} y={268} size={7.5}>Features</T>
      <text x={253} y={268} fontSize={7.5} fill="#222" fontFamily={FONT}><tspan fontStyle="italic">P</tspan> value</text>
      <T x={291} y={268} size={7.5}>HR(95% CI)</T>
      <T x={416} y={268} size={7.5} anchor="middle">Multivariate Cox</T>
      <line x1={212} y1={271.5} x2={340} y2={271.5} stroke="#333" strokeWidth={0.8} />
      <line x1={345} y1={271.5} x2={468} y2={271.5} stroke="#333" strokeWidth={0.8} />
      <T x={410} y={436} size={8} anchor="middle">Hazard Ratio</T>

      {/* F */}
      <T x={651} y={258} size={7} anchor="middle" weight="bold" fill="#222">{'Module\u2212trait relationships'}</T>

      {/* G */}
      <T x={51} y={472} size={10} fill="#222">{gCor}</T>
      <T x={17.5} y={549} size={9} anchor="middle" rotate={-90} fill="#333">Gene significance</T>
      <T x={126} y={661} size={9} anchor="middle" fill="#333">Module Membership</T>

      {/* H */}
      <T x={322} y={479} size={8} anchor="middle" weight="bold" fill="#2e4da0">{hSets[0]}</T>
      <T x={445} y={479} size={8} anchor="middle" weight="bold" fill="#a9a237">{hSets[1]}</T>
      <line x1={391} y1={609} x2={391} y2={636} stroke="#222" strokeWidth={1} />
      <text x={378} y={652} fontSize={12.5} textAnchor="middle" fill="#222" fontFamily={FONT}>
        {hGenes.map((g, i) => (
          <tspan key={g} fill={g === hHighlight ? '#e8202a' : '#222'}>{(i ? ' ' : '') + g}</tspan>
        ))}
      </text>

      {/* I */}
      <T x={552.5} y={552} size={10} anchor="middle" rotate={-90}>Relative PLOD2</T>
      <T x={565.5} y={552} size={10} anchor="middle" rotate={-90}>mRNA expression</T>
      <T x={633} y={537} size={9} anchor="middle" weight="bold" fill="#333">**</T>
      <T x={647} y={517} size={9} anchor="middle" weight="bold" fill="#333">**</T>
      <T x={662} y={505} size={9} anchor="middle" weight="bold" fill="#333">**</T>
      <T x={676} y={493} size={9} anchor="middle" weight="bold" fill="#333">**</T>
      <line x1={647} y1={657} x2={738} y2={657} stroke="#222" strokeWidth={1} />
      <T x={692} y={670} size={9.5} anchor="middle" weight="bold" fill="#222">Hypoxia</T>
    </svg>
  );
}

export default function App() {
  return (
    <div style={{ position: 'absolute', left: 0, top: 0, width: 790, height: 674, background: '#fff', fontFamily: FONT, overflow: 'hidden' }}>
      <PanelA />
      <PanelB />
      <PanelC />
      <PanelD />
      <PanelE />
      <PanelF />
      <PanelG />
      <PanelH />
      <PanelI />
      <Overlay />
    </div>
  );
}
